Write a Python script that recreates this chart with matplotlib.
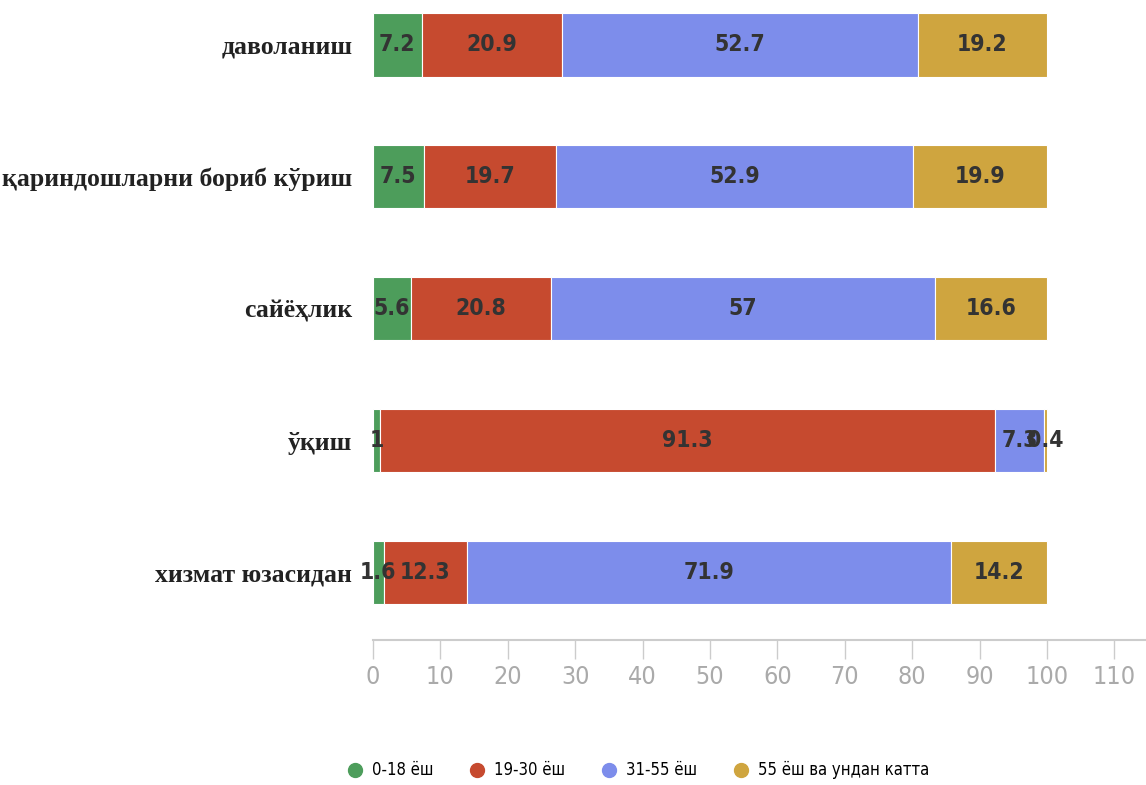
import matplotlib.pyplot as plt
from matplotlib import font_manager
import numpy as np

categories = ["даволаниш", "қариндошларни бориб кўриш", "сайёҳлик", "ўқиш", "хизмат юзасидан"]
series_names = ["0-18 ёш", "19-30 ёш", "31-55 ёш", "55 ёш ва ундан катта"]
values = [
    [7.2, 7.5, 5.6, 1, 1.6],
    [20.9, 19.7, 20.8, 91.3, 12.3],
    [52.7, 52.9, 57, 7.3, 71.9],
    [19.2, 19.9, 16.6, 0.4, 14.2],
]
colors = ["#4d9d5b", "#c64a2f", "#7d8deb", "#cfa53f"]

# look for a condensed sans; fall back to plain DejaVu
condensed = [f for f in font_manager.fontManager.ttflist
             if f.name in ("DejaVu Sans", "Roboto", "Open Sans", "Noto Sans")
             and "ondensed" in f.fname]
if condensed:
    narrow_prop = dict(family=condensed[0].name, stretch="condensed")
    scale = 1.0
else:
    narrow_prop = dict(family="DejaVu Sans")
    scale = 0.8
serif = ["Liberation Serif", "DejaVu Serif"]

fig = plt.figure(figsize=(11.46, 7.85), dpi=100)
ax = fig.add_axes([0.3255, 0.185, 0.6745, 0.815])

y = np.arange(len(categories))
left = np.zeros(len(categories))
for name, vals, col in zip(series_names, values, colors):
    vals = np.array(vals, dtype=float)
    ax.barh(y, vals, left=left, height=0.48, color=col, edgecolor="white",
            linewidth=0.8, label=name)
    for yi, l, v in zip(y, left, vals):
        ax.text(l + v / 2, yi, f"{v:g}", ha="center", va="center",
                fontsize=16.5 * scale, fontweight="bold", color="#333333", **narrow_prop)
    left += vals

ax.set_xlim(0, 114.7)
ax.set_ylim(4.51, -0.34)
ax.set_yticks(y)
ax.set_yticklabels(categories, family=serif, fontweight="bold", fontsize=18.5, color="#222222")
ax.set_xticks(np.arange(0, 111, 10))
ax.tick_params(axis="y", length=0, pad=15)
ax.tick_params(axis="x", length=14, width=1, color="#cccccc", labelcolor="#aaaaaa",
               labelsize=18 * scale, pad=4)
for lab in ax.get_xticklabels():
    lab.set(**narrow_prop)
for s in ["top", "right", "left"]:
    ax.spines[s].set_visible(False)
ax.spines["bottom"].set_color("#cccccc")
ax.spines["bottom"].set_linewidth(1.5)

fig.legend(loc="lower center", bbox_to_anchor=(0.553, -0.012), ncol=4, frameon=False,
           handles=[plt.Line2D([], [], marker="o", ls="", color=c, markersize=10) for c in colors],
           labels=series_names, prop=dict(size=12 * scale, **narrow_prop),
           handletextpad=0.05, columnspacing=1.6)

fig.savefig("out.png", dpi=100)
